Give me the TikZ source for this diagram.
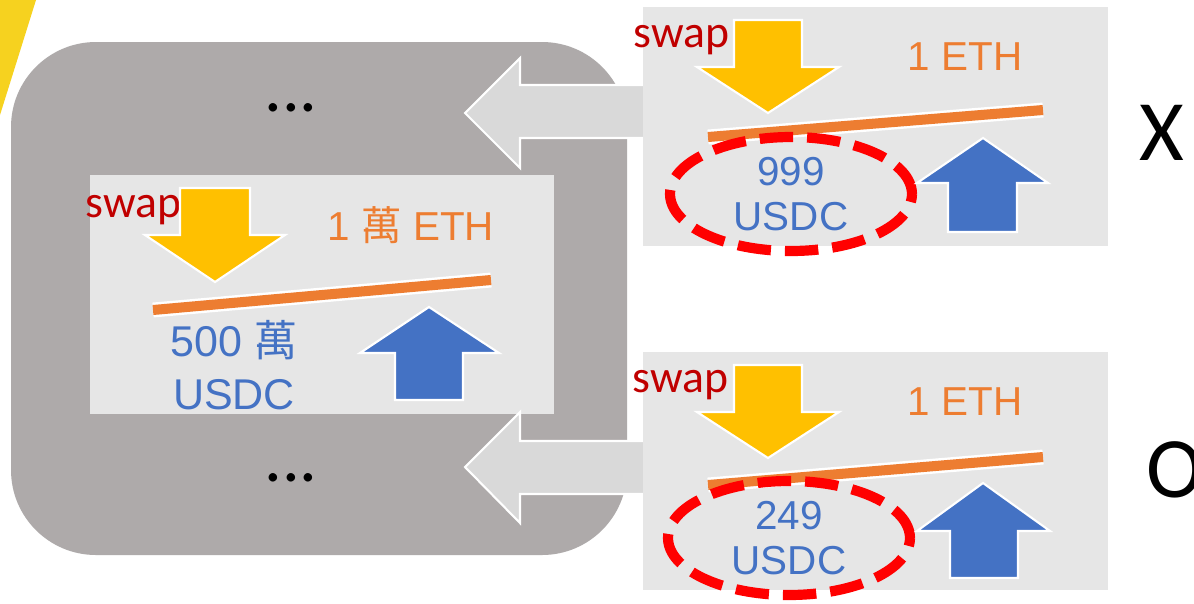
\documentclass[tikz,border=0pt]{standalone}
\usepackage{fontspec}
\setmainfont{Liberation Sans}
\newfontfamily\calib{Carlito}
\newfontfamily\cjk{Noto Sans CJK TC}
\usetikzlibrary{shapes.geometric}

\definecolor{ethorange}{HTML}{ED7D31}
\definecolor{usdcblue}{HTML}{4472C4}
\definecolor{swapred}{HTML}{C00000}
\definecolor{gold}{HTML}{FFC000}
\definecolor{pane}{HTML}{E6E6E6}
\definecolor{slabgrey}{HTML}{AEAAAA}
\definecolor{backgrey}{HTML}{D9D9D9}
\definecolor{banner}{HTML}{F6D21F}

\begin{document}
\begin{tikzpicture}[x=0.02cm,y=-0.02cm]
	\tikzset{
		pool/.style={fill=pane,inner sep=0pt,minimum width=9.3cm,minimum height=4.78cm},
		sell/.style={fill=gold,draw=white,line width=1.2pt},
		buy/.style={fill=usdcblue,draw=white,line width=1.2pt},
		back/.style={fill=backgrey,draw=white,line width=1.2pt},
		price/.style={ethorange,line width=5.7pt,preaction={draw=white,line width=8.5pt}},
		swaptext/.style={text=swapred,font=\calib\fontsize{26}{30}\selectfont,anchor=base west,inner sep=0pt},
		eth/.style={text=ethorange,font=\fontsize{23}{27}\selectfont,anchor=base,inner sep=0pt},
		usdc/.style={text=usdcblue,font=\fontsize{23}{25.5}\selectfont,align=center,inner sep=0pt,text depth=0pt},
		slip/.style={usdc,ellipse,draw=red,line width=5.8pt,dash pattern=on 19pt off 8pt,minimum width=4.84cm,minimum height=2.28cm},
		more/.style={font=\calib\fontsize{40}{42}\selectfont,anchor=base,inner sep=0pt},
		verdict/.style={font=\calib\fontsize{49}{55}\selectfont,inner sep=0pt}
	}
	\useasboundingbox (0,0) rectangle (1194,603);
	\fill[white] (0,0) rectangle (1194,603);
	\fill[banner] (0,0) -- (36,0) -- (0,115) -- cycle;
	\fill[slabgrey,rounded corners=1.7cm] (11,42) rectangle (627,555);

	% pool before the swap
	\node[pool] (bigpool) at (322,294.5) {};
	\node[swaptext] (swap0) at (85,217) {swap};
	\draw[sell] (180,188) -- (250,188) -- (250,235) -- (285,235) -- (215,282) -- (145,235) -- (180,235) -- cycle;
	\draw[price] (153,310) -- (491,280);
	\node[eth] (eth0) at (411,240) {1 {\cjk 萬} ETH};
	\node[usdc,anchor=south,font=\fontsize{24.5}{30}\selectfont] (usdc0) at (234,410) {500 {\cjk 萬}\\USDC};
	\draw[buy] (395,400) -- (463,400) -- (463,353) -- (499,353) -- (429,307) -- (360,353) -- (395,353) -- cycle;
	\node[more] (dots1) at (291,111) {...};
	\node[more] (dots2) at (291,481) {...};

	% arrows back to the big pool
	\draw[back] (650,85) -- (520,85) -- (520,58) -- (465,113) -- (520,168) -- (520,138) -- (650,138) -- cycle;
	\draw[back] (650,441) -- (520,441) -- (520,412) -- (465,467) -- (520,523) -- (520,494) -- (650,494) -- cycle;

	% pool with 999 USDC
	\node[pool] (poolX) at (875.5,126.5) {};
	\node[swaptext] (swap1) at (633,47) {swap};
	\draw[sell] (734,20) -- (802,20) -- (802,67) -- (839,67) -- (768,113) -- (697,67) -- (734,67) -- cycle;
	\draw[price] (708,137) -- (1043,110);
	\node[eth] (eth1) at (965,70) {1 ETH};
	\node[slip] (usdc1) at (791,194) {999\\USDC};
	\draw[buy] (948,232) -- (1017,232) -- (1017,183) -- (1048,183) -- (983,138) -- (917,183) -- (948,183) -- cycle;
	\node[verdict,anchor=base] (fail) at (1162,160) {X};

	% pool with 249 USDC
	\node[pool] (poolO) at (875.5,471) {};
	\node[swaptext] (swap2) at (632,392) {swap};
	\draw[sell] (734,365) -- (802,365) -- (802,412) -- (839,412) -- (768,458) -- (697,412) -- (734,412) -- cycle;
	\draw[price] (708,485) -- (1043,457);
	\node[eth] (eth2) at (965,415) {1 ETH};
	\node[slip] (usdc2) at (789,538) {249\\USDC};
	\draw[buy] (950,578) -- (1018,578) -- (1018,531) -- (1050,531) -- (983,483) -- (917,531) -- (950,531) -- cycle;
	\node[verdict,anchor=base west] (pass) at (1146,497) {O};
\end{tikzpicture}
\end{document}
